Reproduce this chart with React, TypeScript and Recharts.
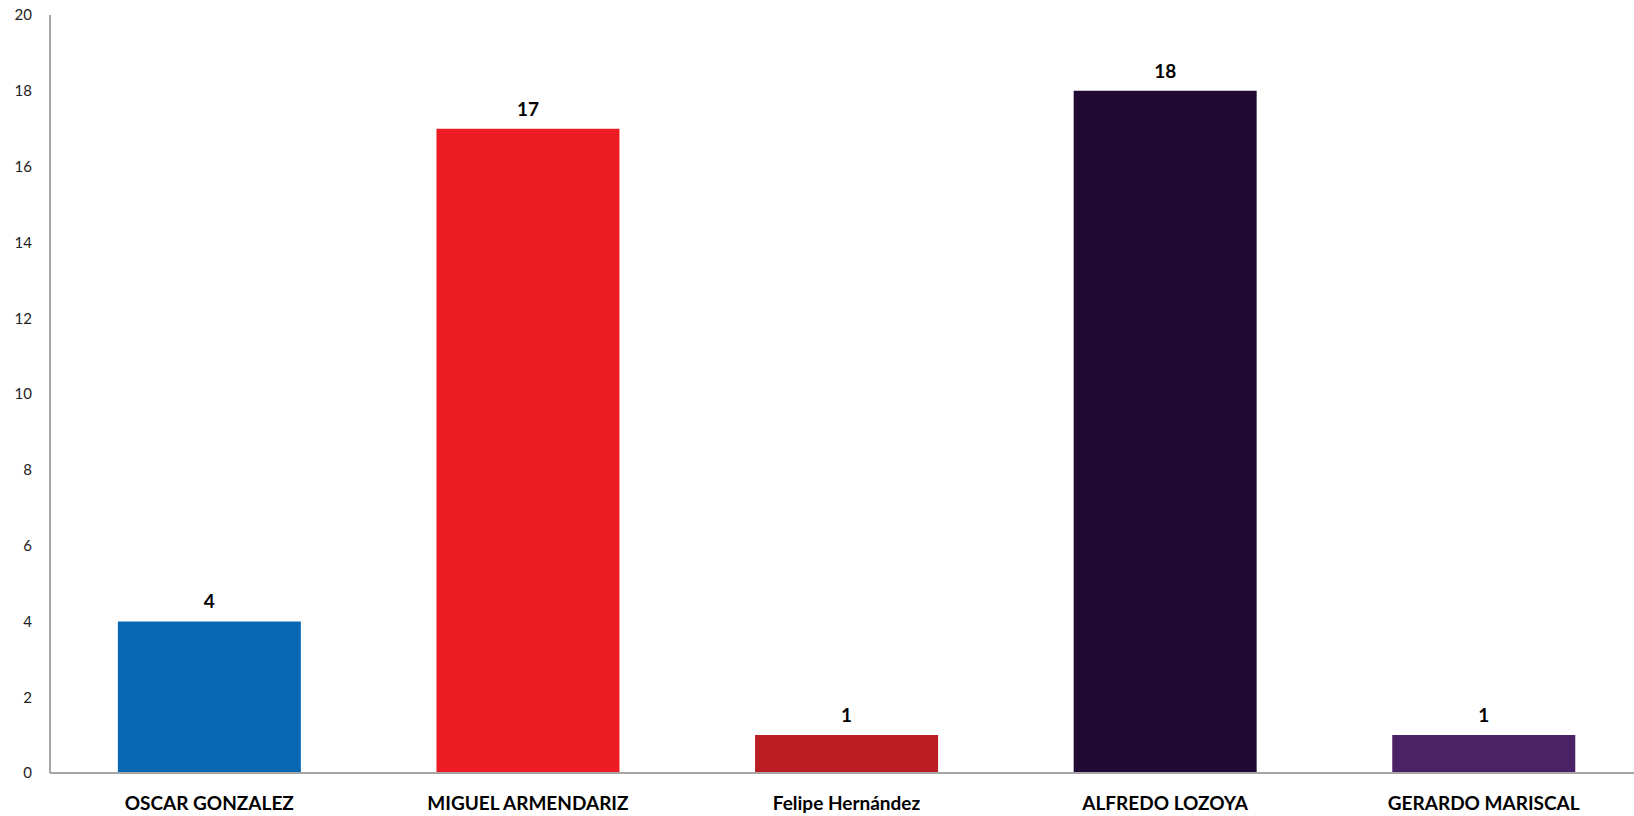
import React from "react";
import { BarChart, Bar, XAxis, YAxis, Cell, LabelList } from "recharts";

const categories = ["OSCAR GONZALEZ", "MIGUEL ARMENDARIZ", "Felipe Hernández", "ALFREDO LOZOYA", "GERARDO MARISCAL"];
const values = [4, 17, 1, 18, 1];
const colors = ["#0868B4", "#ED1C24", "#BA1E22", "#200A33", "#4B2266"];
const yTicks = [0, 2, 4, 6, 8, 10, 12, 14, 16, 18, 20];

const data = categories.map((name, i) => ({ name, value: values[i] }));

export default function App() {
  return (
    <div style={{ position: "absolute", left: 0, top: 0, width: 1634, height: 816, background: "#fff", overflow: "hidden" }}>
      <BarChart
        width={1643}
        height={816}
        data={data}
        margin={{ top: 15, right: 0, left: 0, bottom: 0 }}
        barCategoryGap="21.3%"
      >
        <XAxis
          dataKey="name"
          height={43}
          axisLine={{ stroke: "#A6A6A6", strokeWidth: 2 }}
          tickLine={false}
          interval={0}
          tick={{ fill: "#000", fontSize: 19, fontWeight: 700, fontFamily: "Lato, 'Open Sans', sans-serif" }}
          dy={16}
        />
        <YAxis
          width={50}
          domain={[0, 20]}
          ticks={yTicks}
          axisLine={{ stroke: "#A6A6A6", strokeWidth: 2 }}
          tickLine={false}
          interval={0}
          tick={{ fill: "#222", fontSize: 15, fontFamily: "Lato, 'Open Sans', sans-serif" }}
          dx={-10}
        />
        <Bar dataKey="value" isAnimationActive={false}>
          {data.map((d, i) => (
            <Cell key={d.name} fill={colors[i]} />
          ))}
          <LabelList
            dataKey="value"
            position="top"
            offset={13}
            style={{ fill: "#000", fontSize: 19, fontWeight: 700, fontFamily: "Lato, 'Open Sans', sans-serif" }}
          />
        </Bar>
      </BarChart>
    </div>
  );
}
